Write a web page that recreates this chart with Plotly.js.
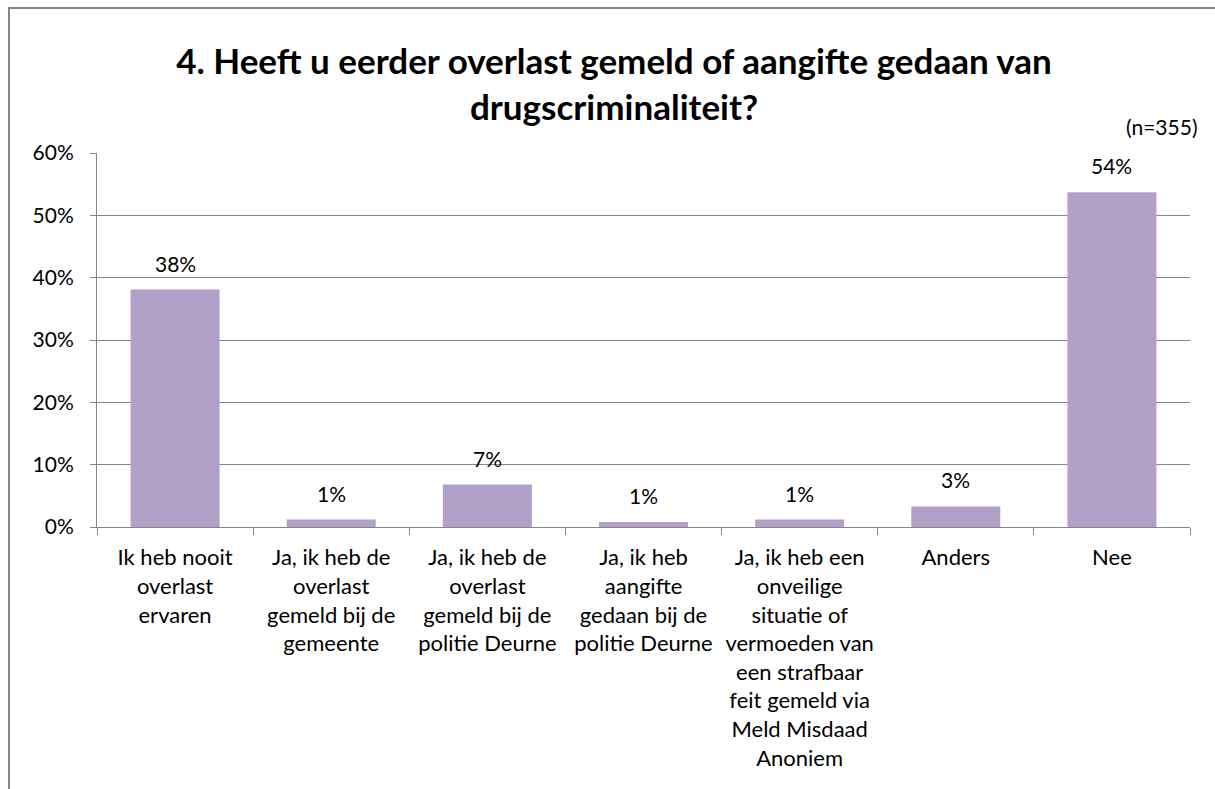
<!DOCTYPE html>
<html>
<head>
<meta charset="utf-8">
<script src="https://cdn.plot.ly/plotly-3.0.1.min.js"></script>
<style>
html,body{margin:0;padding:0;background:#fff;}
#chart{width:1215px;height:789px;}
</style>
</head>
<body>
<div id="chart"></div>
<script>
const categories = [
  "Ik heb nooit<br>overlast<br>ervaren",
  "Ja, ik heb de<br>overlast<br>gemeld bij de<br>gemeente",
  "Ja, ik heb de<br>overlast<br>gemeld bij de<br>politie Deurne",
  "Ja, ik heb<br>aangifte<br>gedaan bij de<br>politie Deurne",
  "Ja, ik heb een<br>onveilige<br>situatie of<br>vermoeden van<br>een strafbaar<br>feit gemeld via<br>Meld Misdaad<br>Anoniem",
  "Anders",
  "Nee"
];
const values = [38.1, 1.2, 6.8, 0.8, 1.2, 3.3, 53.7];
const valueLabels = ["38%", "1%", "7%", "1%", "1%", "3%", "54%"];
const yTickValues = [0, 10, 20, 30, 40, 50, 60];
const yTickLabels = ["0%", "10%", "20%", "30%", "40%", "50%", "60%"];
const titleText = "4. Heeft u eerder overlast gemeld of aangifte gedaan van<br>drugscriminaliteit?";
const noteText = "(n=355)";

const FONT = "Lato, 'Open Sans', sans-serif";
const axisGray = "#868686";

const trace = {
  type: "bar",
  x: categories,
  y: values,
  marker: {color: "#b1a0c7"},
  hoverinfo: "skip"
};

const labelAnnotations = categories.map((c, i) => ({
  x: c, y: values[i], xref: "x", yref: "y",
  text: valueLabels[i], showarrow: false,
  yanchor: "bottom", yshift: 12,
  font: {family: FONT, size: 21, color: "#000"}
}));

const layout = {
  width: 1215, height: 789,
  margin: {l: 97, r: 25, t: 153, b: 262},
  paper_bgcolor: "#fff", plot_bgcolor: "#fff",
  bargap: 0.43,
  showlegend: false,
  title: {
    text: titleText,
    x: 614/1215, xanchor: "center", xref: "container",
    y: 1 - 74/789, yanchor: "middle", yref: "container",
    font: {family: FONT, size: 35, color: "#000", weight: "bold"}
  },
  xaxis: {
    type: "category",
    tickson: "boundaries",
    ticks: "outside", ticklen: 7, tickcolor: axisGray, tickwidth: 1,
    showline: true, linecolor: axisGray, linewidth: 1,
    showgrid: false,
    tickfont: {family: FONT, size: 22, color: "#000"},
    ticklabelstandoff: 11,
    tickangle: 0,
    mirror: false
  },
  yaxis: {
    range: [0, 60],
    tickvals: yTickValues, ticktext: yTickLabels,
    ticks: "outside", ticklen: 6, tickcolor: axisGray,
    showline: true, linecolor: axisGray, linewidth: 1,
    showgrid: true, gridcolor: axisGray, gridwidth: 1,
    zeroline: false,
    ticklabelstandoff: 12,
    tickfont: {family: FONT, size: 21, color: "#000"}
  },
  annotations: labelAnnotations.concat([{
    xref: "paper", yref: "paper",
    x: 1.008, y: 1 + 26/374, xanchor: "right", yanchor: "middle",
    text: noteText, showarrow: false,
    font: {family: FONT, size: 21, color: "#000"}
  }]),
  shapes: [{
    type: "rect", xref: "paper", yref: "paper",
    x0: -88/1093, x1: 1150/1093,
    y0: -300/374, y1: 1 + 145/374,
    line: {color: axisGray, width: 2},
    fillcolor: "rgba(0,0,0,0)",
    layer: "below"
  }]
};

Plotly.newPlot("chart", [trace], layout, {displayModeBar: false, staticPlot: true});
</script>
</body>
</html>
